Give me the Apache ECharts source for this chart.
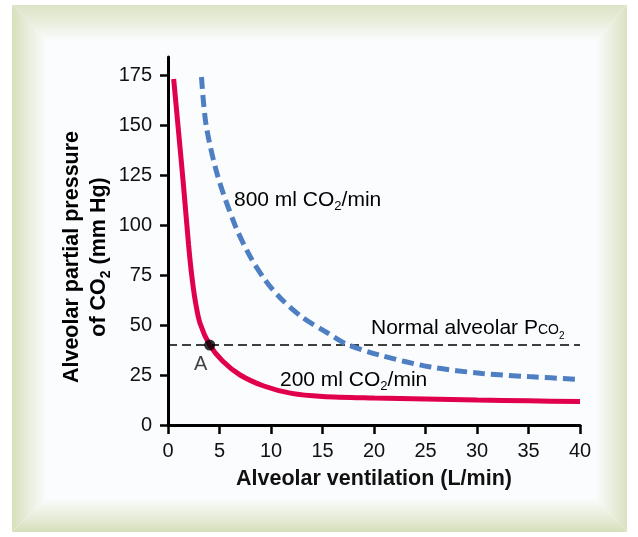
<!DOCTYPE html>
<html>
<head>
<meta charset="utf-8">
<script src="https://cdn.jsdelivr.net/npm/echarts@6/dist/echarts.min.js"></script>
<style>
html, body { margin: 0; padding: 0; background: #fff; }
#main { width: 638px; height: 537px; }
</style>
</head>
<body>
<div id="main"></div>
<script>
// 200 ml CO2/min curve (solid red)
var lowX = [0.55, 1.0, 1.5, 2.0, 2.3, 2.65, 3.1, 4.05, 5.3, 7.0, 9.3, 12, 15, 20, 25, 30, 35, 40];
var lowY = [173, 148, 120, 90, 75, 62, 51, 40, 32, 25, 19.5, 15.8, 14.3, 13.5, 13, 12.5, 12.1, 11.7];

// 800 ml CO2/min curve (dashed blue)
var highX = [3.25, 3.7, 4.8, 6.5, 8, 9.5, 11, 13, 15.5, 17.3, 20.5, 25.5, 30.5, 35, 40];
var highY = [174, 150, 125, 100, 84, 72, 63, 54, 46, 40.5, 35, 29, 25.8, 24.2, 22.8];

var normalPco2 = 40;
var pointA = [4.05, 40];
var yTicks = [0, 25, 50, 75, 100, 125, 150, 175];
var xTicks = [0, 5, 10, 15, 20, 25, 30, 35, 40];

function zip(xs, ys) {
    var out = [];
    for (var i = 0; i < xs.length; i++) {
        out.push([xs[i], ys[i]]);
    }
    return out;
}

// one side of the bevelled frame, fading from green (outer edge) to white
function bevel(points, dir, green) {
    return {
        type: 'polygon', z: -20, silent: true,
        shape: { points: points },
        style: {
            fill: {
                type: 'linear', x: dir[0], y: dir[1], x2: dir[2], y2: dir[3],
                colorStops: [
                    { offset: 0, color: green },
                    { offset: 0.45, color: '#e8eddb' },
                    { offset: 1, color: '#fbfcfd' }
                ]
            }
        }
    };
}

var font = 'Liberation Sans, Arial, sans-serif';
var myChart = echarts.init(document.getElementById('main'));

var txt = { fontSize: 21, fontFamily: font, color: '#111', lineHeight: 26 };
var sub = { fontSize: 13, fontFamily: font, color: '#111', lineHeight: 14, verticalAlign: 'bottom' };
var bold = { fontSize: 21.5, fontFamily: font, fontWeight: 'bold', color: '#111', lineHeight: 27 };
var boldSub = { fontSize: 14, fontFamily: font, fontWeight: 'bold', color: '#111', lineHeight: 15, verticalAlign: 'bottom' };

// frame corners: outer and inner
var oL = 12, oT = 5, oR = 627, oB = 532;
var iL = 47, iT = 41, iR = 596, iB = 498;

myChart.setOption({
    backgroundColor: '#fff',
    animation: false,
    graphic: [
        {
            type: 'rect', z: -21, silent: true,
            shape: { x: iL - 1, y: iT - 1, width: iR - iL + 2, height: iB - iT + 2 },
            style: { fill: '#fbfcfd' }
        },
        bevel([[oL, oT], [oR, oT], [iR, iT], [iL, iT]], [0, 0, 0, 1], '#dce4c6'),
        bevel([[oL, oB], [oR, oB], [iR, iB], [iL, iB]], [0, 1, 0, 0], '#d5dfb9'),
        bevel([[oL, oT], [iL, iT], [iL, iB], [oL, oB]], [0, 0, 1, 0], '#d6e0ba'),
        bevel([[oR, oT], [iR, iT], [iR, iB], [oR, oB]], [1, 0, 0, 0], '#dae2c2'),
        {
            type: 'text', z: 10, x: 86, y: 257, rotation: Math.PI / 2,
            style: {
                text: '{b|Alveolar partial pressure}\n{b|of CO}{s|2}{b| (mm Hg)}',
                textAlign: 'center', textVerticalAlign: 'middle',
                rich: { b: bold, s: boldSub }
            }
        },
        {
            type: 'text', z: 10, x: 234, y: 200,
            style: {
                text: '{n|800 ml CO}{s|2}{n|/min}',
                textAlign: 'left', textVerticalAlign: 'middle',
                rich: { n: txt, s: sub }
            }
        },
        {
            type: 'text', z: 10, x: 280, y: 380,
            style: {
                text: '{n|200 ml CO}{s|2}{n|/min}',
                textAlign: 'left', textVerticalAlign: 'middle',
                rich: { n: txt, s: sub }
            }
        },
        {
            type: 'text', z: 10, x: 371, y: 328,
            style: {
                text: '{n|Normal alveolar P}{c|CO}{s|2}',
                textAlign: 'left', textVerticalAlign: 'middle',
                rich: {
                    n: txt,
                    c: { fontSize: 14, fontFamily: font, color: '#111', padding: [5, 0, 0, 0] },
                    s: { fontSize: 10, fontFamily: font, color: '#111', lineHeight: 15, verticalAlign: 'bottom' }
                }
            }
        }
    ],
    grid: { left: 168, right: 58, top: 57, bottom: 112, containLabel: false },
    xAxis: {
        type: 'value',
        min: 0,
        max: 40,
        interval: 5,
        name: 'Alveolar ventilation (L/min)',
        nameLocation: 'middle',
        nameGap: 43,
        nameTextStyle: { fontSize: 21.5, fontWeight: 'bold', fontFamily: font, color: '#111' },
        axisLine: { lineStyle: { color: '#000', width: 3 } },
        axisTick: { length: 9, lineStyle: { color: '#000', width: 2.5 }, customValues: xTicks },
        axisLabel: { fontSize: 20, fontFamily: font, color: '#111', margin: 16, customValues: xTicks },
        splitLine: { show: false }
    },
    yAxis: {
        type: 'value',
        min: 0,
        max: 184,
        interval: 25,
        axisLine: { show: true, lineStyle: { color: '#000', width: 3 } },
        axisTick: { show: true, length: 8, lineStyle: { color: '#000', width: 2.5 }, customValues: yTicks },
        axisLabel: { fontSize: 20, fontFamily: font, color: '#111', margin: 16, customValues: yTicks },
        splitLine: { show: false }
    },
    series: [
        {
            name: 'Normal alveolar PCO2',
            type: 'line',
            data: [[0, normalPco2], [40, normalPco2]],
            symbol: 'none',
            z: 1,
            lineStyle: { color: '#000', width: 1.5, type: [9, 5] }
        },
        {
            name: '800 ml CO2/min',
            type: 'line',
            data: zip(highX, highY),
            symbol: 'none',
            smooth: 0.3,
            z: 3,
            lineStyle: { color: '#4f7fc3', width: 5, type: [12, 6] }
        },
        {
            name: '200 ml CO2/min',
            type: 'line',
            data: zip(lowX, lowY),
            symbol: 'none',
            smooth: 0.3,
            z: 3,
            lineStyle: { color: '#e0004b', width: 5 }
        },
        {
            name: 'A',
            type: 'scatter',
            data: [pointA],
            symbolSize: 11,
            z: 5,
            itemStyle: { color: '#000' },
            label: {
                show: true, formatter: 'A', position: 'bottom', distance: 4, offset: [-9, 0],
                fontSize: 20, fontFamily: font, color: '#111'
            }
        }
    ]
});
</script>
</body>
</html>
